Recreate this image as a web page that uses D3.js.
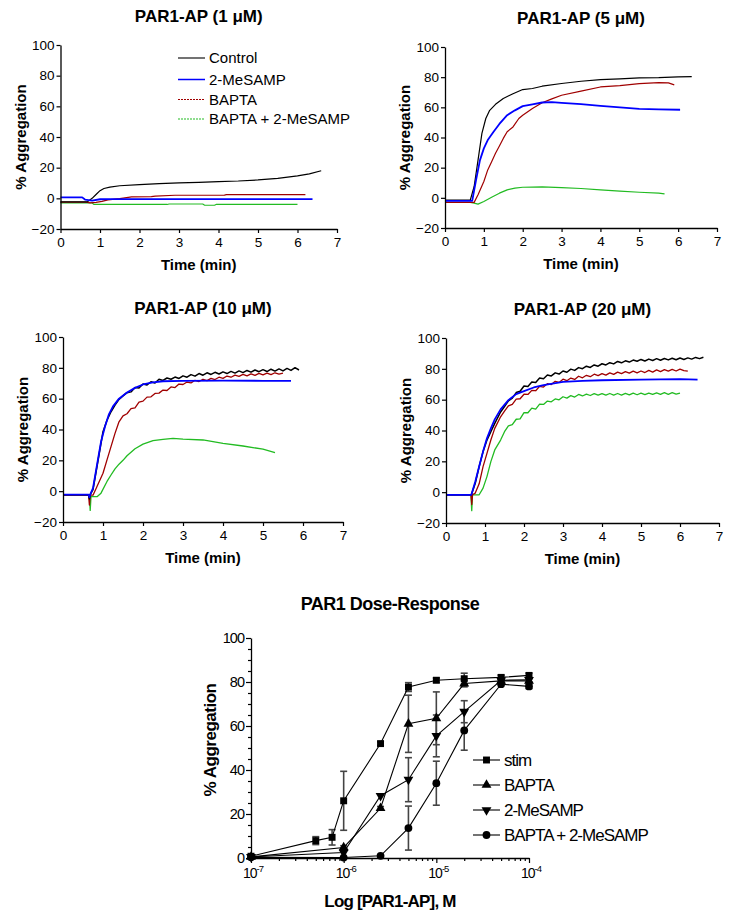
<!DOCTYPE html>
<html><head><meta charset="utf-8">
<script src="https://cdn.jsdelivr.net/npm/d3@7"></script>
<style>
body{margin:0;background:#fff}
svg{display:block;font-family:"Liberation Sans",Arial,Helvetica,sans-serif}
</style></head><body>
<svg id="c" width="748" height="920"></svg>
<script>
// ---------------- DATA ----------------
const panelTitles = ["PAR1-AP (1 \u03bcM)", "PAR1-AP (5 \u03bcM)", "PAR1-AP (10 \u03bcM)", "PAR1-AP (20 \u03bcM)"];
const traceNames = ["Control", "2-MeSAMP", "BAPTA", "BAPTA + 2-MeSAMP"];
const timeTicks = [0, 1, 2, 3, 4, 5, 6, 7];
const aggTicks = [-20, 0, 20, 40, 60, 80, 100];

// Panel 1 (1 uM) [time(min), % aggregation]
const p1Control = [[0,-2.3],[0.68,-2.3],[0.8,0],[0.9,2.5],[1.0,5],[1.1,6.4],[1.25,7.3],[1.5,8.2],[2,9],[2.5,9.6],[3,10.1],[3.5,10.4],[4,10.9],[4.5,11.3],[5,12],[5.5,13],[6,14.6],[6.3,16],[6.6,18]];
const p1MeSAMP = [[0,0.6],[0.55,0.6],[0.62,-0.8],[0.8,-1.5],[1.0,-0.6],[1.2,-0.5],[6.38,-0.5]];
const p1BAPTA = [[0,-2.5],[0.65,-2.5],[0.75,-3],[0.9,-2.6],[1.05,-2],[1.2,-1],[1.5,-0.2],[1.8,0.9],[2.3,1.1],[2.4,1.5],[2.9,2],[4.15,2.1],[4.2,2.4],[6.2,2.4]];
const p1Both = [[0,-3],[0.8,-3],[0.85,-4],[2.7,-4],[2.75,-3.7],[3.6,-3.7],[3.65,-4.5],[3.9,-4.5],[3.95,-3.9],[6.0,-4]];

// Panel 2 (5 uM)
const p2Control = [[0,-1.5],[0.65,-1.5],[0.75,7.5],[0.85,25],[0.95,42.7],[1.05,52.6],[1.15,58],[1.3,62],[1.5,65.9],[1.75,69],[2,71.8],[2.25,72.5],[2.5,74],[3,75.8],[3.5,77.3],[4,78.4],[4.5,78.9],[5,79.5],[5.5,79.7],[6,80.2],[6.35,80.4]];
const p2MeSAMP = [[0,-2],[0.7,-2],[0.8,11.9],[0.9,25],[1.0,32.8],[1.1,38.3],[1.25,43.8],[1.4,49],[1.6,54.8],[1.8,58],[2,60.8],[2.25,62],[2.5,63.2],[2.75,63.4],[3,63],[3.5,62.1],[4,61],[4.5,60],[5,59],[5.5,58.6],[6.05,58.4]];
const p2BAPTA = [[0,-3],[0.75,-3],[0.85,2],[1.0,10.8],[1.1,18.5],[1.2,24],[1.3,29.5],[1.4,34.4],[1.5,39.4],[1.6,43.8],[1.75,47],[1.9,52.6],[2,54.8],[2.25,59.2],[2.5,63],[2.75,65.6],[3,68],[3.5,70.7],[4,73.5],[4.5,74.4],[5,75.7],[5.5,76.4],[5.75,76.2],[5.9,74.9]];
const p2Both = [[0,-3],[0.65,-3],[0.75,-3.5],[0.85,-4.2],[1.0,-2.4],[1.2,0.4],[1.4,3.1],[1.6,5.3],[1.8,6.4],[2,7],[2.5,7.3],[3,6.8],[3.5,6.2],[4,5.3],[4.5,4.4],[5,3.7],[5.5,3.1],[5.65,2.6]];

// Panel 3 (10 uM)
const p3Control = [[0,-2.3],[0.64,-2.3],[0.66,-5],[0.68,-2.3],[0.75,1],[0.85,16],[0.95,31],[1.0,38.6],[1.1,46],[1.2,51.5],[1.3,55.8],[1.4,59.5],[1.5,61.8],
  [1.6,63.9],[1.7,64.4],[1.8,67.3],[1.9,66.9],[2.0,69.5],[2.1,68.9],[2.2,71.0],[2.3,70.2],[2.4,72.6],[2.5,71.8],[2.6,73.4],[2.7,72.6],[2.8,74.0],[2.9,73.1],
  [3.0,74.8],[3.1,73.9],[3.2,75.6],[3.3,74.6],[3.4,76.3],[3.5,75.2],[3.6,76.8],[3.7,75.7],[3.8,77.1],[3.9,76.0],[4.0,77.4],[4.1,76.3],[4.2,77.7],[4.3,76.6],
  [4.4,78.0],[4.5,76.9],[4.6,78.3],[4.7,77.2],[4.8,78.6],[4.9,77.5],[5.0,78.8],[5.1,77.6],[5.2,79.1],[5.3,77.9],[5.4,79.3],[5.5,78.0],[5.6,79.6],[5.7,78.3],[5.8,80.1],[5.9,78.6]];
const p3MeSAMP = [[0,-2.3],[0.64,-2.3],[0.66,-4],[0.68,-2.3],[0.75,2],[0.85,17],[0.95,32],[1.05,42],[1.15,50],[1.25,55],[1.4,60],[1.6,64],[1.8,67],[2,69.2],[2.25,70.6],[2.5,71.3],[3,71.6],[4,71.7],[5,71.6],[5.7,71.5]];
const p3BAPTA = [[0,-2.6],[0.64,-2.6],[0.66,-9],[0.68,-2.6],[0.75,-2.6],[0.85,3],[1.0,11.6],[1.1,20.3],[1.2,28.9],[1.3,37.5],[1.4,45],
  [1.5,48.8],[1.6,50.2],[1.7,53.5],[1.8,54.1],[1.9,57.8],[2.0,58.4],[2.1,61.0],[2.2,61.2],[2.3,63.4],[2.4,63.6],[2.5,65.6],[2.6,65.3],[2.7,67.6],[2.8,67.2],
  [2.9,69.5],[3.0,69.2],[3.1,70.8],[3.2,70.2],[3.3,71.9],[3.4,71.1],[3.5,72.6],[3.6,71.7],[3.7,73.2],[3.8,72.4],[3.9,73.9],[4.0,73.2],[4.1,74.7],[4.2,73.9],
  [4.3,75.3],[4.4,74.5],[4.5,75.8],[4.6,74.8],[4.7,76.1],[4.8,75.1],[4.9,76.4],[5.0,75.4],[5.1,76.6],[5.2,75.6],[5.3,76.8],[5.4,75.9],[5.5,76.5]];
const p3Both = [[0,-2.6],[0.66,-2.6],[0.68,-12.5],[0.7,-3.5],[0.85,-3.6],[0.95,-1.3],[1.1,6.3],[1.2,10.5],[1.3,14.5],[1.4,17.5],[1.5,20],[1.6,23],[1.8,27.5],[2,30.5],[2.25,32.8],[2.5,33.6],[2.75,34.3],[3,33.8],[3.5,33.2],[4,31],[4.5,29.3],[5,27.2],[5.3,25]];

// Panel 4 (20 uM)
const p4Control = [[0,-1.7],[0.65,-1.7],[0.75,5.8],[0.85,16.6],[0.95,26.3],[1.05,33.8],[1.15,39.2],[1.25,44.6],[1.4,52],[1.5,55.6],
  [1.6,59.2],[1.7,61.0],[1.8,64.6],[1.9,65.5],[2.0,68.9],[2.1,68.6],[2.2,71.4],[2.3,71.1],[2.4,74.0],[2.5,73.6],[2.6,76.0],[2.7,75.4],[2.8,77.4],[2.9,76.6],
  [3.0,78.6],[3.1,77.8],[3.2,79.8],[3.3,79.0],[3.4,80.8],[3.5,80.1],[3.6,81.7],[3.7,80.9],[3.8,82.5],[3.9,81.7],[4.0,83.3],[4.1,82.5],[4.2,84.0],[4.3,83.2],
  [4.4,84.8],[4.5,83.9],[4.6,85.2],[4.7,84.4],[4.8,85.7],[4.9,84.9],[5.0,86.1],[5.1,85.1],[5.2,86.3],[5.3,85.4],[5.4,86.6],[5.5,85.6],[5.6,86.7],[5.7,85.8],
  [5.8,86.9],[5.9,85.9],[6.0,87.0],[6.1,86.1],[6.2,87.1],[6.3,86.3],[6.4,87.4],[6.5,86.6],[6.6,87.5]];
const p4MeSAMP = [[0,-1.7],[0.65,-1.7],[0.75,6.7],[0.85,16.6],[0.95,26.3],[1.05,34.9],[1.15,41.4],[1.25,47.2],[1.4,53.7],[1.6,59.7],[1.8,63.6],[2,65.5],[2.25,67.9],[2.5,69.4],[3,71.6],[3.5,72.2],[4,72.6],[5,73],[6,73.3],[6.45,73]];
const p4BAPTA = [[0,-1.7],[0.64,-1.7],[0.66,-8],[0.68,-1.7],[0.75,-0.6],[0.85,5.4],[0.95,16.6],[1.05,25.2],[1.15,33.8],[1.25,41.4],[1.4,48.9],[1.5,52.5],
  [1.6,56.0],[1.7,57.0],[1.8,60.3],[1.9,60.6],[2.0,63.5],[2.1,63.4],[2.2,66.0],[2.3,65.8],[2.4,68.6],[2.5,68.2],[2.6,70.4],[2.7,69.8],[2.8,71.9],[2.9,71.2],
  [3.0,73.3],[3.1,72.3],[3.2,74.0],[3.3,73.1],[3.4,75.2],[3.5,74.2],[3.6,75.8],[3.7,74.9],[3.8,76.5],[3.9,75.6],[4.0,76.9],[4.1,75.9],[4.2,77.4],[4.3,76.4],
  [4.4,77.9],[4.5,76.9],[4.6,78.2],[4.7,77.2],[4.8,78.5],[4.9,77.4],[5.0,78.6],[5.1,77.6],[5.2,79.0],[5.3,77.9],[5.4,79.3],[5.5,78.2],[5.6,79.5],[5.7,78.5],
  [5.8,79.7],[5.9,78.6],[6.0,79.8],[6.1,78.8],[6.2,78.5]];
const p4Both = [[0,-1.7],[0.64,-1.7],[0.66,-12],[0.68,-1.7],[0.85,-1.7],[0.95,2.6],[1.05,10.1],[1.15,19.8],[1.25,27.4],[1.4,33.8],[1.5,39.2],
  [1.6,43.0],[1.7,43.8],[1.8,47.3],[1.9,47.6],[2.0,51.6],[2.1,51.5],[2.2,54.5],[2.3,53.9],[2.4,57.1],[2.5,56.9],[2.6,59.1],[2.7,58.6],[2.8,60.5],[2.9,59.9],
  [3.0,61.9],[3.1,61.0],[3.2,62.6],[3.3,61.7],[3.4,63.4],[3.5,62.4],[3.6,63.6],[3.7,62.7],[3.8,63.9],[3.9,62.9],[4.0,63.9],[4.1,62.9],[4.2,64.0],[4.3,63.0],
  [4.4,64.0],[4.5,63.0],[4.6,64.1],[4.7,63.1],[4.8,64.2],[4.9,63.2],[5.0,64.2],[5.1,63.3],[5.2,64.3],[5.3,63.4],[5.4,64.4],[5.5,63.5],[5.6,64.5],[5.7,63.5],
  [5.8,64.5],[5.9,63.6],[6.0,64.2]];

// Dose-response
const doseTitle = "PAR1 Dose-Response";
const doseNames = ["stim", "BAPTA", "2-MeSAMP", "BAPTA + 2-MeSAMP"];
const doseXTickExp = [-7, -6, -5, -4];
const doseYTicks = [0, 20, 40, 60, 80, 100];
const stimConc = [1e-7, 5e-7, 7.5e-7, 1e-6, 2.5e-6, 5e-6, 1e-5, 2e-5, 5e-5, 1e-4];
const stimMean = [0.8, 7.9, 9.4, 26, 52, 77.7, 80.8, 81.5, 82.1, 83];
const stimErr  = [0.5, 1.8, 3.5, 13.4, 0.8, 2, 1, 2.5, 1, 1];
const testConc = [1e-7, 1e-6, 2.5e-6, 5e-6, 1e-5, 2e-5, 5e-5, 1e-4];
const baptaMean = [0.5, 4.8, 22.6, 61, 63.5, 79.3, 80.5, 80.5];
const baptaErr  = [0, 0.8, 0.8, 13, 12, 1.5, 1, 1];
const mesampMean = [0.5, 2.5, 28.3, 35.6, 55.5, 66.5, 80.8, 81];
const mesampErr  = [0, 0.5, 0.5, 10, 9.5, 5, 1, 1];
const bothMean = [0.3, 0.2, 1, 13.6, 34, 58, 79, 78];
const bothErr  = [0, 0, 0, 10, 10, 9, 0.5, 1];

// ---------------- DRAW ----------------
const svg = d3.select("#c");
const font = '"Liberation Sans",Arial,Helvetica,sans-serif';
const panelData = [
  [p1Control, p1MeSAMP, p1BAPTA, p1Both],
  [p2Control, p2MeSAMP, p2BAPTA, p2Both],
  [p3Control, p3MeSAMP, p3BAPTA, p3Both],
  [p4Control, p4MeSAMP, p4BAPTA, p4Both]
];
const layout = [
  {l:60.5, r:337, t:45, b:229},
  {l:445, r:717, t:47, b:228},
  {l:63, r:343, t:337, b:522},
  {l:446, r:719, t:338, b:523}
];
const traceStyle = [
  {c:"#000000", w:1.2},
  {c:"#0000ff", w:1.8},
  {c:"#a00000", w:1.2},
  {c:"#22bb22", w:1.2}
];
const noisyW = [1.5, 1.8, 1.3, 1.3];
const drawOrder = [3, 2, 0, 1];

function styleAxis(g, fs){
  g.selectAll(".domain").attr("stroke","#000").attr("stroke-width",1.3);
  g.selectAll(".tick line").attr("stroke","#000").attr("stroke-width",1.2);
  g.selectAll(".tick text").attr("fill","#000").style("font-size",fs+"px").style("font-family",font);
}

panelData.forEach((series, i) => {
  const L = layout[i];
  const x = d3.scaleLinear().domain([0,7]).range([L.l, L.r]);
  const y = d3.scaleLinear().domain([-20,100]).range([L.b, L.t]);
  const g = svg.append("g");

  const line = d3.line().x(d => x(d[0])).y(d => y(d[1]));
  drawOrder.forEach(k => {
    const st = traceStyle[k];
    g.append("path").datum(series[k])
      .attr("fill","none").attr("stroke",st.c)
      .attr("stroke-width", i >= 2 ? noisyW[k] : st.w)
      .attr("stroke-linejoin","round")
      .attr("d", line);
  });

  const xa = g.append("g").attr("transform",`translate(0,${L.b})`)
    .call(d3.axisBottom(x).tickValues(timeTicks).tickFormat(d3.format("d")).tickSize(4).tickSizeOuter(0).tickPadding(4));
  styleAxis(xa, 13.5);
  const ya = g.append("g").attr("transform",`translate(${L.l},0)`)
    .call(d3.axisLeft(y).tickValues(aggTicks).tickFormat(d3.format("d")).tickSize(4).tickSizeOuter(0).tickPadding(2));
  styleAxis(ya, 13.5);

  g.append("text").attr("x",(L.l+L.r)/2).attr("y",L.t-23)
    .attr("text-anchor","middle").style("font-weight","bold").style("font-size","17px")
    .text(panelTitles[i]);
  g.append("text").attr("x",(L.l+L.r)/2).attr("y",L.b+41)
    .attr("text-anchor","middle").style("font-weight","bold").style("font-size","15px")
    .text("Time (min)");
  g.append("text").attr("transform",`translate(${L.l-40},${(L.t+L.b)/2}) rotate(-90)`)
    .attr("text-anchor","middle").attr("dy","0.35em").style("font-weight","bold").style("font-size","15px")
    .text("% Aggregation");
});

// legend for trace panels
const legY = [58, 79.5, 99.5, 119];
traceNames.forEach((n, k) => {
  const st = traceStyle[k];
  svg.append("line").attr("x1",178).attr("x2",205).attr("y1",legY[k]).attr("y2",legY[k])
    .attr("stroke",st.c).attr("stroke-width", k===1 ? 1.5 : 1.1)
    .attr("stroke-dasharray", k>=2 ? "2,1" : null);
  svg.append("text").attr("x",209).attr("y",legY[k]).attr("dy","0.35em")
    .style("font-size","15px").text(n);
});

// ---------------- dose response ----------------
const D = {l:251, r:529, t:638, b:858};
const dx = d3.scaleLog().domain([1e-7,1e-4]).range([D.l, D.r]);
const dy = d3.scaleLinear().domain([0,100]).range([D.b, D.t]);
const dg = svg.append("g");

const doseSeries = [
  {conc: stimConc, mean: stimMean, err: stimErr, sym: d3.symbolSquare, size: 48, rot: 0},
  {conc: testConc, mean: baptaMean, err: baptaErr, sym: d3.symbolTriangle, size: 42, rot: 0},
  {conc: testConc, mean: mesampMean, err: mesampErr, sym: d3.symbolTriangle, size: 42, rot: 180},
  {conc: testConc, mean: bothMean, err: bothErr, sym: d3.symbolCircle, size: 48, rot: 0}
];

// error bars
doseSeries.forEach(s => {
  s.conc.forEach((c, j) => {
    const e = s.err[j];
    if (e < 0.6) return;
    const cx = dx(c), y1 = dy(s.mean[j]+e), y2 = dy(s.mean[j]-e);
    dg.append("line").attr("x1",cx).attr("x2",cx).attr("y1",y1).attr("y2",y2)
      .attr("stroke","#444").attr("stroke-width",1.6);
    [y1,y2].forEach(yy => dg.append("line").attr("x1",cx-3.5).attr("x2",cx+3.5).attr("y1",yy).attr("y2",yy)
      .attr("stroke","#444").attr("stroke-width",1.6));
  });
});
// lines
doseSeries.forEach(s => {
  const pts = s.conc.map((c,j)=>[c, s.mean[j]]);
  dg.append("path").datum(pts).attr("fill","none").attr("stroke","#000").attr("stroke-width",1.1)
    .attr("d", d3.line().x(d=>dx(d[0])).y(d=>dy(d[1])));
});
// markers
doseSeries.forEach(s => {
  s.conc.forEach((c,j) => {
    dg.append("path").attr("d", d3.symbol().type(s.sym).size(s.size)())
      .attr("transform",`translate(${dx(c)},${dy(s.mean[j])}) rotate(${s.rot})`)
      .attr("fill","#000");
  });
});

// axes
const allLogTicks = dx.ticks();
const dxa = dg.append("g").attr("transform",`translate(0,${D.b})`)
  .call(d3.axisBottom(dx).tickValues(allLogTicks).tickFormat("").tickSize(3).tickSizeOuter(0));
dxa.selectAll(".tick").filter(d => doseXTickExp.some(e => Math.abs(Math.log10(d)-e)<1e-9))
  .select("line").attr("y2",5);
styleAxis(dxa, 14);
doseXTickExp.forEach(e => {
  const t = dg.append("text").attr("x", dx(Math.pow(10,e)) + 2).attr("y", 878)
    .attr("text-anchor","middle").style("font-size","14px").style("letter-spacing","-1px");
  t.append("tspan").text("10");
  t.append("tspan").attr("dy",-6).style("font-size","9.5px").text("-" + Math.abs(e));
});
const minorY = d3.range(0, 101, 5);
const dya = dg.append("g").attr("transform",`translate(${D.l},0)`)
  .call(d3.axisLeft(dy).tickValues(minorY).tickSize(3).tickSizeOuter(0).tickPadding(4)
    .tickFormat(d => doseYTicks.includes(d) ? d : ""));
dya.selectAll(".tick").filter(d => doseYTicks.includes(d)).select("line").attr("x2",-5);
styleAxis(dya, 14.5);
dya.selectAll(".tick text").style("letter-spacing","-1px");

dg.append("text").attr("x",390).attr("y",610).attr("text-anchor","middle")
  .style("font-weight","bold").style("font-size","18px").style("letter-spacing","-0.5px").text(doseTitle);
dg.append("text").attr("x",390).attr("y",907).attr("text-anchor","middle")
  .style("font-weight","bold").style("font-size","17px").style("letter-spacing","-0.8px").text("Log [PAR1-AP], M");
dg.append("text").attr("transform","translate(210,740) rotate(-90)").attr("text-anchor","middle").attr("dy","0.35em")
  .style("font-weight","bold").style("font-size","17px").style("letter-spacing","-0.5px").text("% Aggregation");

// dose legend
const dLegY = [760, 785, 810, 835];
doseNames.forEach((n,k) => {
  const s = doseSeries[k];
  dg.append("line").attr("x1",473).attr("x2",500).attr("y1",dLegY[k]).attr("y2",dLegY[k])
    .attr("stroke","#000").attr("stroke-width",1.1);
  dg.append("path").attr("d", d3.symbol().type(s.sym).size(s.size)())
    .attr("transform",`translate(486.5,${dLegY[k]}) rotate(${s.rot})`).attr("fill","#000");
  dg.append("text").attr("x",504).attr("y",dLegY[k]).attr("dy","0.35em")
    .style("font-size","17px").style("letter-spacing","-1px").text(n);
});
</script>
</body></html>
